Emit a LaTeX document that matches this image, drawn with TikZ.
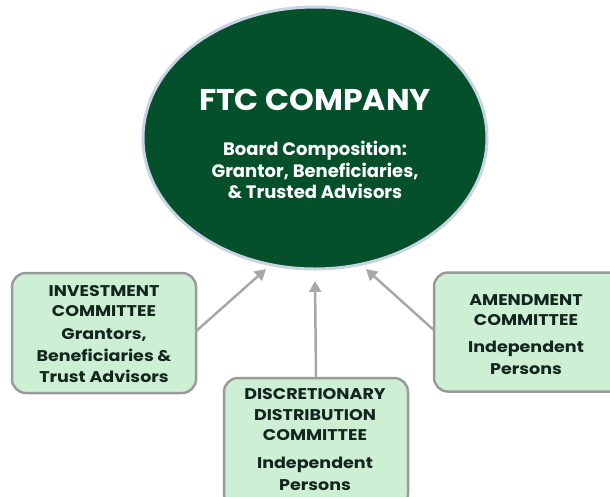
\documentclass[tikz,border=0pt]{standalone}
\usepackage{fontspec}
\setmainfont{Poppins}
\newfontfamily\widefont{Poppins}[FakeStretch=1.13]
\newfontfamily\titlefont{Poppins}[FakeStretch=1.05]
\usetikzlibrary{arrows.meta,shapes.geometric}
\definecolor{ftcgreen}{HTML}{03502B}
\definecolor{ringblue}{HTML}{C9D3E6}
\definecolor{boxfill}{HTML}{CDEFD3}
\definecolor{boxline}{HTML}{9A9A9A}
\definecolor{arrowgray}{HTML}{A8A8A8}
\definecolor{boxtext}{HTML}{13251F}
\tikzset{
  x=1pt,y=-1pt,
  company/.style={ellipse,fill=ftcgreen,draw=ringblue,line width=3pt,minimum width=344pt,minimum height=262pt,inner sep=0pt},
  committee/.style={rectangle,rounded corners=14pt,fill=boxfill,draw=boxline,line width=2.5pt,inner sep=0pt},
  boxlabel/.style={text=boxtext,font=\widefont\bfseries\fontsize{15.5}{20.5}\selectfont,align=center,inner sep=0pt},
  boxbody/.style={text=boxtext,font=\widefont\bfseries\fontsize{15.5}{21.5}\selectfont,align=center,inner sep=0pt},
  link/.style={draw=arrowgray,line width=2.5pt,-{Triangle[length=11pt,width=12pt]}}
}
\begin{document}
\begin{tikzpicture}
\useasboundingbox (0,0) rectangle (610,496);
\clip (0,0) rectangle (610,496);
\node[company] (ftc) at (315,138) {};
\node[text=white,font=\titlefont\bfseries\fontsize{30}{33}\selectfont] (title) at (315,100) {FTC COMPANY};
\node[text=white,font=\bfseries\fontsize{18}{21.5}\selectfont,align=center] (sub) at (315,170) {Board Composition:\\Grantor, Beneficiaries,\\\& Trusted Advisors};
\node[committee,minimum width=184pt,minimum height=120pt] (inv) at (104,333) {};
\node[committee,minimum width=190pt,minimum height=119pt] (amd) at (529,332) {};
\node[committee,minimum width=184pt,minimum height=130pt] (dis) at (316,443) {};
\node[boxlabel] (invt) at (104,301) {INVESTMENT\\COMMITTEE};
\node[boxbody] (invb) at (104,356) {Grantors,\\Beneficiaries \&\\Trust Advisors};
\node[boxlabel] (amdt) at (526,310) {AMENDMENT\\COMMITTEE};
\node[boxbody] (amdb) at (526,358) {Independent\\Persons};
\node[boxlabel] (dist) at (315,415) {DISCRETIONARY\\DISTRIBUTION\\COMMITTEE};
\node[boxbody] (disb) at (315,474) {Independent\\Persons};
\coordinate (invtip) at (266,269);
\coordinate (distip) at (315,281);
\coordinate (amdtip) at (366,269);
\draw[link] (inv.east) ++(-1,-2) coordinate (invs) (invs) -- (invtip);
\draw[link] (dis.north) -- (distip);
\draw[link] (amd.west) ++(1,-2) coordinate (amds) (amds) -- (amdtip);
\end{tikzpicture}
\end{document}
